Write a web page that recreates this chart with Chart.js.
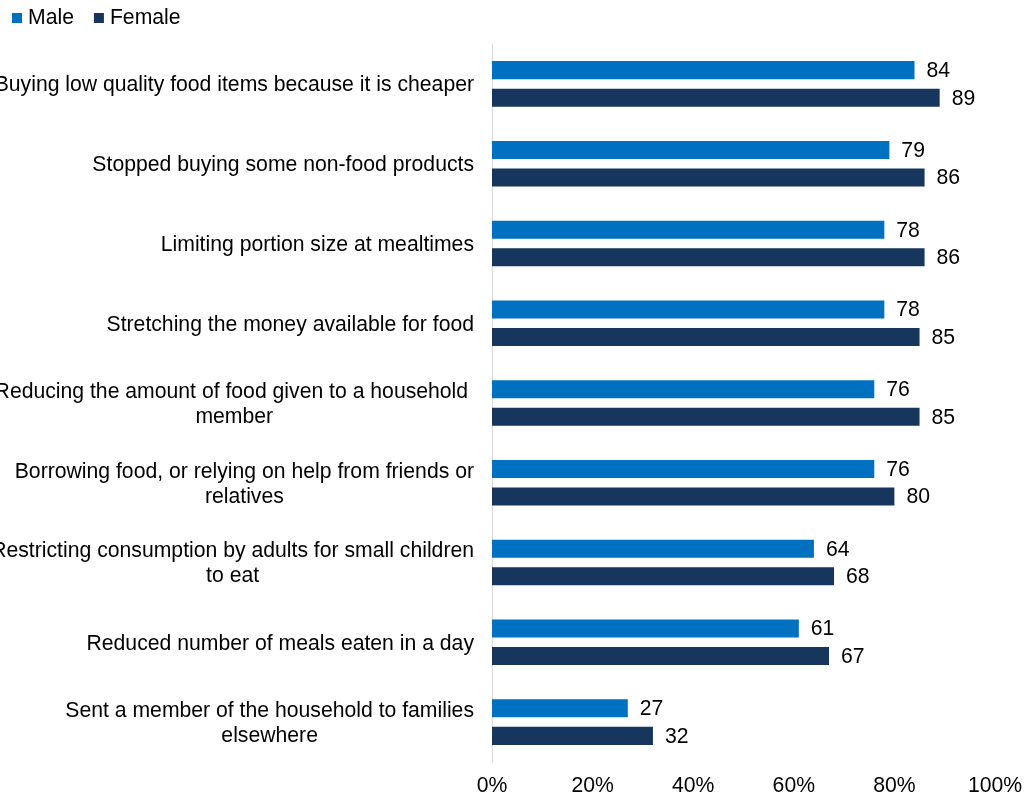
<!DOCTYPE html>
<html>
<head>
<meta charset="utf-8">
<script src="https://cdn.jsdelivr.net/npm/chart.js@4/dist/chart.umd.min.js"></script>
<style>
  html, body { margin: 0; padding: 0; background: #fff; }
  canvas { display: block; }
</style>
</head>
<body>
<canvas id="chart" width="1025" height="799"></canvas>
<script>
const categories = [
  "Buying low quality food items because it is cheaper",
  "Stopped buying some non-food products",
  "Limiting portion size at mealtimes",
  "Stretching the money available for food",
  ["Reducing the amount of food given to a household ", "member"],
  ["Borrowing food, or relying on help from friends or", "relatives"],
  ["Restricting consumption by adults for small children", "to eat"],
  "Reduced number of meals eaten in a day",
  ["Sent a member of the household to families", "elsewhere"],
];
const male = [84, 79, 78, 78, 76, 76, 64, 61, 27];
const female = [89, 86, 86, 85, 85, 80, 68, 67, 32];
const xTicks = [0, 20, 40, 60, 80, 100];

const FAMILY = "'Liberation Sans', Arial, sans-serif";
const SIZE = 21.2;
const FONT = SIZE + "px " + FAMILY;
const TEXT = "#000000";

// square markers + series names, top left
const legendBoxes = {
  id: "legendBoxes",
  afterDraw(chart) {
    const ctx = chart.ctx;
    ctx.save();
    ctx.font = FONT;
    ctx.textBaseline = "middle";
    ctx.textAlign = "left";
    let x = 12;
    const y = 18;
    chart.data.datasets.forEach(ds => {
      ctx.fillStyle = ds.backgroundColor;
      ctx.fillRect(x, y - 5, 10, 10);
      x += 16;
      ctx.fillStyle = TEXT;
      ctx.fillText(ds.label, x, y);
      x += ctx.measureText(ds.label).width + 20;
    });
    ctx.restore();
  }
};

// wrapped category names, block right-aligned to the axis, lines centred
const categoryLabels = {
  id: "categoryLabels",
  afterDraw(chart) {
    const ctx = chart.ctx;
    const scale = chart.scales.y;
    const right = chart.chartArea.left - 18;
    ctx.save();
    ctx.font = FONT;
    ctx.fillStyle = TEXT;
    ctx.textBaseline = "middle";
    ctx.textAlign = "center";
    chart.data.labels.forEach((lbl, i) => {
      const lines = Array.isArray(lbl) ? lbl : [lbl];
      const w = Math.max(...lines.map(l => ctx.measureText(l).width));
      const cx = right - w / 2;
      const cy = scale.getPixelForValue(i) + 1.5;
      lines.forEach((l, j) => {
        ctx.fillText(l, cx, cy + (j - (lines.length - 1) / 2) * 25);
      });
    });
    ctx.restore();
  }
};

// value at the end of each bar
const valueLabels = {
  id: "valueLabels",
  afterDatasetsDraw(chart) {
    const ctx = chart.ctx;
    ctx.save();
    ctx.font = FONT;
    ctx.fillStyle = TEXT;
    ctx.textBaseline = "middle";
    ctx.textAlign = "left";
    chart.data.datasets.forEach((ds, d) => {
      chart.getDatasetMeta(d).data.forEach((bar, i) => {
        ctx.fillText(String(ds.data[i]), bar.x + 12, bar.y + 1);
      });
    });
    ctx.restore();
  }
};

new Chart(document.getElementById("chart").getContext("2d"), {
  type: "bar",
  data: {
    labels: categories,
    datasets: [
      {
        label: "Male",
        data: male,
        backgroundColor: "#0070C0",
        categoryPercentage: 0.69,
        barPercentage: 0.655,
      },
      {
        label: "Female",
        data: female,
        backgroundColor: "#17365D",
        categoryPercentage: 0.69,
        barPercentage: 0.655,
      },
    ],
  },
  options: {
    indexAxis: "y",
    responsive: false,
    animation: false,
    layout: {
      padding: { top: 44, right: 30, left: 0, bottom: 0 },
    },
    plugins: {
      legend: { display: false },
      tooltip: { enabled: false },
    },
    scales: {
      x: {
        min: 0,
        max: 100,
        afterBuildTicks(scale) {
          scale.ticks = xTicks.map(v => ({ value: v }));
        },
        afterFit(scale) {
          scale.height = 37;
          scale.paddingLeft = 0;
          scale.paddingRight = 0;
        },
        ticks: {
          color: TEXT,
          font: { family: FAMILY, size: SIZE },
          padding: 11,
          maxRotation: 0,
          callback: v => v + "%",
        },
        grid: { display: false, drawTicks: false },
        border: { display: false },
      },
      y: {
        afterFit(scale) {
          scale.width = 492;
        },
        ticks: { display: false },
        grid: { display: false, drawTicks: false },
        border: { display: true, color: "#D9D9D9", width: 1 },
      },
    },
  },
  plugins: [legendBoxes, categoryLabels, valueLabels],
});
</script>
</body>
</html>
